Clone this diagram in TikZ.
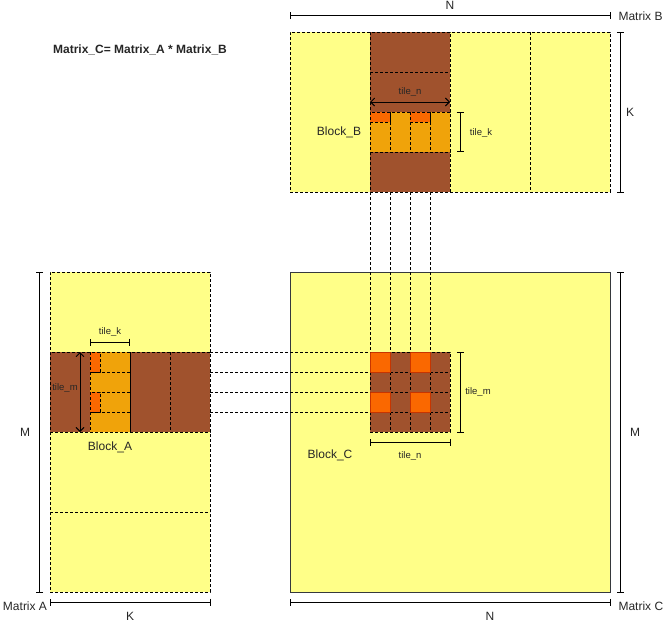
\documentclass[tikz,border=0pt]{standalone}
\usepackage{fontspec}
\setmainfont{Liberation Sans}
\usetikzlibrary{arrows.meta}

\definecolor{matyellow}{HTML}{FFFF88}
\definecolor{matbrown}{HTML}{A0522D}
\definecolor{matorange}{HTML}{F0A30A}
\definecolor{matred}{HTML}{FA6800}
\definecolor{matredline}{HTML}{C73500}
\definecolor{matline}{HTML}{36393D}

\begin{document}
\begin{tikzpicture}[x=1pt, y=-1pt,
  every node/.style={font=\fontsize{12}{14}\selectfont, text=black!85},
  small/.style={font=\fontsize{9.5}{11}\selectfont},
  cell/.style={draw=black, dash pattern=on 3pt off 2pt, line width=0.8pt, inner sep=0pt},
  guide/.style={draw=black, dash pattern=on 3pt off 2pt, line width=0.8pt},
  dim/.style={{Bar[width=7pt]}-{Bar[width=7pt]}, line width=0.9pt},
  span/.style={{Straight Barb[length=4pt,width=8pt]}-{Straight Barb[length=4pt,width=8pt]}, line width=0.9pt}]
  \useasboundingbox (0,0) rectangle (671,625);

  % Matrix A
  \node[cell, fill=matyellow, minimum width=160, minimum height=320] (matA) at (130,432) {};
  \draw[cell] (50,512) -- (210,512);
  \node[cell, fill=matbrown, minimum width=160, minimum height=80] (blkA) at (130,392) {};
  \draw[cell] (130,352) -- (130,432) (170,352) -- (170,432);
  \foreach \j in {0,...,3}
    \draw[cell, fill=matorange] (90,352+20*\j) rectangle ++(40,20);
  \foreach \j in {0,2}
    \draw[cell, fill=matred] (90,352+20*\j) rectangle ++(10,20);

  % Matrix B
  \node[cell, fill=matyellow, minimum width=320, minimum height=160] (matB) at (450,112) {};
  \draw[cell] (530,32) -- (530,192);
  \node[cell, fill=matbrown, minimum width=80, minimum height=160] (blkB) at (410,112) {};
  \draw[cell] (370,72) -- (450,72);
  \foreach \i in {0,...,3}
    \draw[cell, fill=matorange] (370+20*\i,112) rectangle ++(20,40);
  \foreach \i in {0,2}
    \draw[cell, fill=matred] (370+20*\i,112) rectangle ++(20,10);

  % Matrix C
  \node[draw=matline, line width=0.8pt, fill=matyellow, minimum width=320, minimum height=320] (matC) at (450,432) {};
  \node[cell, fill=matbrown, minimum width=80, minimum height=80] (blkC) at (410,392) {};
  \foreach \k in {1,2,3}
    \draw[cell] (370+20*\k,352) -- ++(0,80) (370,352+20*\k) -- ++(80,0);
  \foreach \i/\j in {0/0,2/0,0/2,2/2}
    \draw[draw=matredline, fill=matred, line width=0.8pt] (370+20*\i,352+20*\j) rectangle ++(20,20);

  % guides from A and B into C
  \foreach \k in {0,...,3} {
    \coordinate (bk\k) at (370+20*\k,192);
    \coordinate (ck\k) at (370+20*\k,352);
    \coordinate (am\k) at (210,352+20*\k);
    \coordinate (cm\k) at (370,352+20*\k);
    \draw[guide] (bk\k) -- (ck\k);
    \draw[guide] (am\k) -- (cm\k);
  }

  % sizes
  \draw[dim] ([yshift=16]matB.north west) -- ([yshift=16]matB.north east);
  \draw[dim] ([xshift=10]matB.north east) -- ([xshift=10]matB.south east);
  \draw[dim] ([xshift=-10]matA.north west) -- ([xshift=-10]matA.south west);
  \draw[dim] ([yshift=-10]matA.south west) -- ([yshift=-10]matA.south east);
  \draw[dim] ([xshift=10]matC.north east) -- ([xshift=10]matC.south east);
  \draw[dim] ([yshift=-10]matC.south west) -- ([yshift=-10]matC.south east);
  \draw[span] (370,102) -- (450,102);
  \draw[dim] (460,112) -- (460,152);
  \draw[dim] (90,342) -- (130,342);
  \draw[span] (80,352) -- (80,432);
  \draw[dim] ([xshift=10]blkC.north east) -- ([xshift=10]blkC.south east);
  \draw[dim] ([yshift=-10]blkC.south west) -- ([yshift=-10]blkC.south east);

  % labels
  \node[font=\bfseries\fontsize{12}{14}\selectfont] (title) at (140,50) {Matrix\_C= Matrix\_A * Matrix\_B};
  \node (lblNB) at (450,5) {N};
  \node[anchor=west] (lblMB) at (615,16) {Matrix B};
  \node (lblKB) at (630,112) {K};
  \node (lblBB) at (339,132) {Block\_B};
  \node[small] (tnB) at (410,92) {tile\_n};
  \node[small] (tkB) at (481,133) {tile\_k};
  \node[small] (tkA) at (110,332) {tile\_k};
  \node[small] (tmA) at (65,388) {tile\_m};
  \node (lblBA) at (110,447) {Block\_A};
  \node (lblMA) at (25,432) {M};
  \node (lblA) at (25,606) {Matrix A};
  \node (lblKA) at (130,616) {K};
  \node (lblBC) at (330,455) {Block\_C};
  \node[small] (tmC) at (478,392) {tile\_m};
  \node[small] (tnC) at (410,456) {tile\_n};
  \node (lblMC) at (635,432) {M};
  \node (lblNC) at (490,616) {N};
  \node[anchor=west] (lblC) at (615,606) {Matrix C};
\end{tikzpicture}
\end{document}
